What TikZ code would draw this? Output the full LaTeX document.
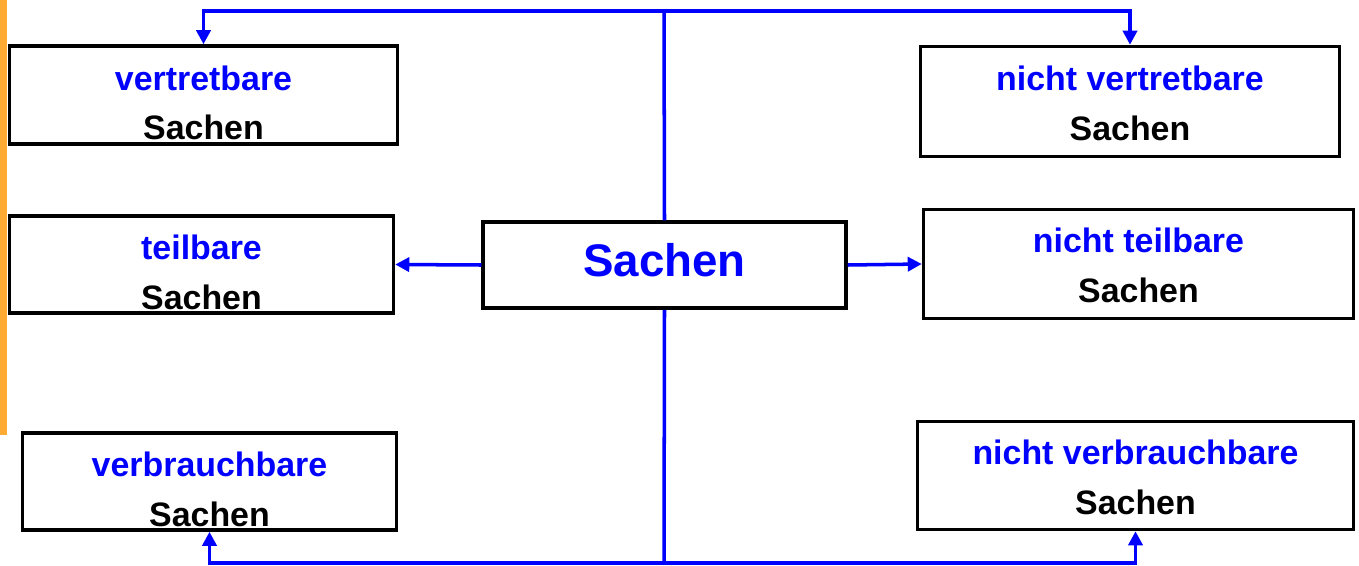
\documentclass[tikz,border=0pt]{standalone}
\usepackage{fontspec}
\setmainfont{Liberation Sans}
\usetikzlibrary{arrows.meta}
\definecolor{linkblue}{HTML}{0000FF}
\definecolor{sidebar}{HTML}{FFAA33}
\tikzset{
  kind/.style={draw=black,line width=2pt,fill=white,align=center,inner sep=0pt,
    font=\fontsize{19.3}{28.3}\selectfont\bfseries,text depth=0pt},
  kindl/.style={kind,text height=51pt},
  kindr/.style={kind,text height=44pt},
  root/.style={draw=black,line width=2pt,fill=white,align=center,inner sep=0pt,
    font=\fontsize{26}{30}\selectfont\bfseries,text=linkblue,
    text height=13.6pt,text depth=0pt},
  link/.style={draw=linkblue,line width=2pt},
  arrow/.style={link,-{Triangle[length=8pt,width=8pt]}}
}
\newcommand{\kindtext}[1]{\textcolor{linkblue}{#1}\\Sachen}

\begin{document}
\begin{tikzpicture}[x=0.02cm,y=-0.02cm]
  \useasboundingbox (0,0) rectangle (1359,565);
  \fill[sidebar] (0,0) rectangle (7,435);
  % centre
  \node[root,minimum width=7.26cm,minimum height=1.72cm] (sachen) at (664.5,265) {Sachen};
  % left column
  \node[kindl,minimum width=7.76cm,minimum height=1.96cm] (vertretbar) at (203.5,95) {\kindtext{vertretbare}};
  \node[kindl,minimum width=7.68cm,minimum height=1.94cm] (teilbar) at (201.5,264.5) {\kindtext{teilbare}};
  \node[kindl,minimum width=7.48cm,minimum height=1.94cm] (verbrauchbar) at (209.5,481.5) {\kindtext{verbrauchbare}};
  % right column
  \node[kindr,minimum width=8.38cm,minimum height=2.2cm] (nvertretbar) at (1130,101.5) {\kindtext{nicht vertretbare}};
  \node[kindr,minimum width=8.6cm,minimum height=2.18cm] (nteilbar) at (1138.5,264) {\kindtext{nicht teilbare}};
  \node[kindr,minimum width=8.72cm,minimum height=2.16cm] (nverbrauchbar) at (1135.5,475.5) {\kindtext{nicht verbrauchbare}};
  \coordinate (top) at (664,11);
  \coordinate (bottom) at (664,563);
  \draw[link] (sachen.north) -- (top);
  \draw[link] (sachen.south) -- (bottom);
  \draw[arrow] (top) -| (vertretbar.north);
  \draw[arrow] (top) -| (nvertretbar.north);
  \draw[arrow] (bottom) -| (verbrauchbar.south);
  \draw[arrow] (bottom) -| (nverbrauchbar.south);
  \draw[arrow] (sachen.west) -- (teilbar.east);
  \draw[arrow] (sachen.east) -- (nteilbar.west);
\end{tikzpicture}
\end{document}
